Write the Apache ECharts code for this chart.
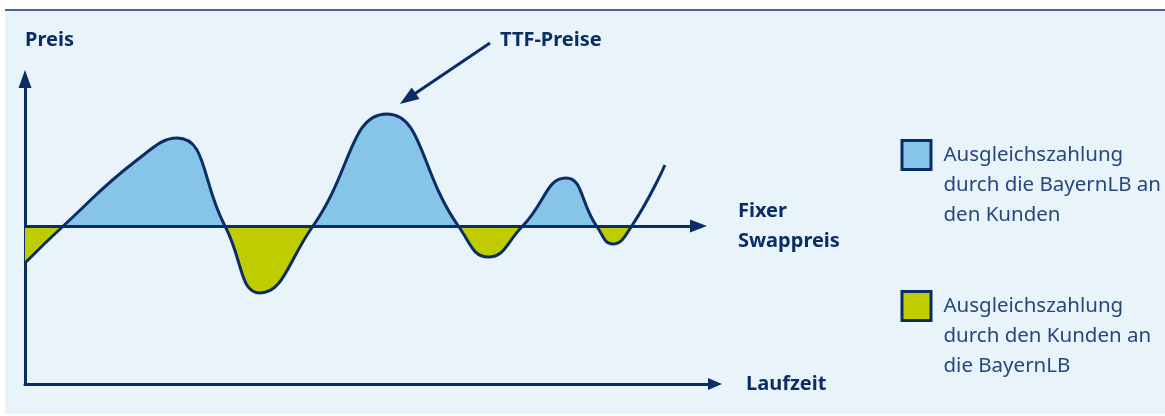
<!DOCTYPE html>
<html><head><meta charset="utf-8">
<script src="https://cdn.jsdelivr.net/npm/echarts@6/dist/echarts.min.js"></script>
<style>
html,body{margin:0;padding:0;background:#fff;}
#panel{position:absolute;left:5px;top:9px;width:1160px;height:405px;background:#e9f3fa;border-top:2px solid #4f62a0;box-sizing:border-box;}
#chart{position:absolute;left:0;top:0;width:1165px;height:416px;}
</style></head><body><div id="panel"></div><div id="chart"></div>
<script>
// Laufzeit (time, arbitrary units)
const timeValues = [0, 5.49, 16.07, 21.81, 28.69, 33.72, 41.32, 51.9, 62.17, 66.47, 71.4, 77.62, 82.0, 84.32, 87.05, 91.82];
// TTF price relative to the fixed swap price (arbitrary units)
const ttfPrices = [-3.7, 0, 6.6, 8.8, 0, -6.7, 0, 11.2, 0, -3.1, 0, 4.8, 0, -1.8, 0, 6.1];
const swapPrice = 0;
const fillEndTime = 87.05;
const swapLineEnd = 96.63;
const ttfPointer = [54.92, 12.74];
const axisRange = { xMin: 0, xMax: 99, yMin: -15.8, yMax: 14.7 };
const seriesNames = ['bank', 'kunde'];
const legendLabels = {
  bank: 'Ausgleichszahlung\ndurch die BayernLB an\nden Kunden',
  kunde: 'Ausgleichszahlung\ndurch den Kunden an\ndie BayernLB'
};
const texts = { yName: 'Preis', xName: 'Laufzeit', swap: 'Fixer\nSwappreis', ttf: 'TTF-Preise' };

const NAVY = '#0b2d66';
const BLUE = '#86c5e8';
const GREEN = '#bfcc00';
const CLEAR = 'rgba(0,0,0,0)';
const FONT = '"Noto Sans", "Open Sans", sans-serif';
const pts = timeValues.map((t, i) => [t, ttfPrices[i]]);
const fillPts = pts.filter(p => p[0] <= fillEndTime);
const SMOOTH = 0.5;

const boldText = { color: NAVY, fontFamily: FONT, fontWeight: 'bold', fontSize: 20 };

function legendFor(name, color, top) {
  return {
    data: [{ name: name, itemStyle: { color: color, borderColor: NAVY, borderWidth: 3 } }],
    left: 900.5, top: top, padding: 0, orient: 'vertical',
    icon: 'rect', itemWidth: 29, itemHeight: 29, selectedMode: false,
    formatter: n => '\n\n' + legendLabels[n],
    textStyle: { color: '#26467d', fontFamily: FONT, fontSize: 20.5, lineHeight: 30, padding: [0, 0, 0, 7.5] }
  };
}

const option = {
  animation: false,
  grid: { left: 25, top: 79, right: 450, bottom: 32 },
  xAxis: {
    type: 'value', min: axisRange.xMin, max: axisRange.xMax,
    name: texts.xName, nameLocation: 'end', nameGap: 31,
    nameTextStyle: Object.assign({}, boldText, { verticalAlign: 'middle', padding: [0, 0, 4, 0] }),
    axisLine: { onZero: false, symbol: ['none', 'triangle'], symbolSize: [12, 14], lineStyle: { color: NAVY, width: 3 } },
    axisTick: { show: false }, axisLabel: { show: false }, splitLine: { show: false }
  },
  yAxis: {
    type: 'value', min: axisRange.yMin, max: axisRange.yMax,
    name: texts.yName, nameLocation: 'end', nameGap: 29,
    nameTextStyle: Object.assign({}, boldText, { align: 'left', lineHeight: 20 }),
    axisLine: { onZero: false, symbol: ['none', 'triangle'], symbolSize: [13, 18], lineStyle: { color: NAVY, width: 3 } },
    axisTick: { show: false }, axisLabel: { show: false }, splitLine: { show: false }
  },
  legend: [legendFor(seriesNames[0], BLUE, 80), legendFor(seriesNames[1], GREEN, 231)],
  series: [
    { name: seriesNames[0], type: 'line', data: fillPts, smooth: SMOOTH, showSymbol: false, silent: true,
      lineStyle: { width: 0 }, itemStyle: { color: BLUE }, areaStyle: { opacity: 1, origin: 'auto', color: CLEAR }, z: 1 },
    { name: seriesNames[1], type: 'line', data: fillPts, smooth: SMOOTH, showSymbol: false, silent: true,
      lineStyle: { width: 0 }, itemStyle: { color: GREEN }, areaStyle: { opacity: 1, origin: 'auto', color: CLEAR }, z: 1 },
    { name: 'ttf', type: 'line', data: pts, smooth: SMOOTH, showSymbol: false, silent: true, z: 3,
      lineStyle: { color: NAVY, width: 3 },
      markLine: {
        silent: true, animation: false,
        emphasis: { disabled: true },
        data: [
          [
            { coord: [axisRange.xMin, swapPrice], symbol: 'none',
              label: Object.assign({ show: true, position: 'end', distance: 39.5, formatter: texts.swap, lineHeight: 30, align: 'left' }, boldText) },
            { coord: [swapLineEnd, swapPrice], symbol: 'triangle', symbolSize: [13, 17] }
          ],
          [
            { x: 490, y: 43, symbol: 'none',
              label: Object.assign({ show: true, position: 'start', distance: [12, 4], formatter: texts.ttf }, boldText) },
            { coord: ttfPointer, symbol: 'triangle', symbolSize: [14, 19] }
          ]
        ],
        lineStyle: { color: NAVY, width: 3, type: 'solid' }
      }
    }
  ]
};
const chart = echarts.init(document.getElementById('chart'), null, { renderer: 'canvas' });
chart.setOption(option);

// split the fill at the swap price using the axis' own pixel mapping
const h = chart.getHeight();
const y0 = chart.convertToPixel({ yAxisIndex: 0 }, swapPrice) / h;
const grad = (above, below) => new echarts.graphic.LinearGradient(0, 0, 0, h, [
  { offset: 0, color: above }, { offset: y0, color: above },
  { offset: y0, color: below }, { offset: 1, color: below }
], true);
chart.setOption({
  series: [
    { areaStyle: { color: grad(BLUE, CLEAR) } },
    { areaStyle: { color: grad(CLEAR, GREEN) } }
  ]
});
</script></body></html>
